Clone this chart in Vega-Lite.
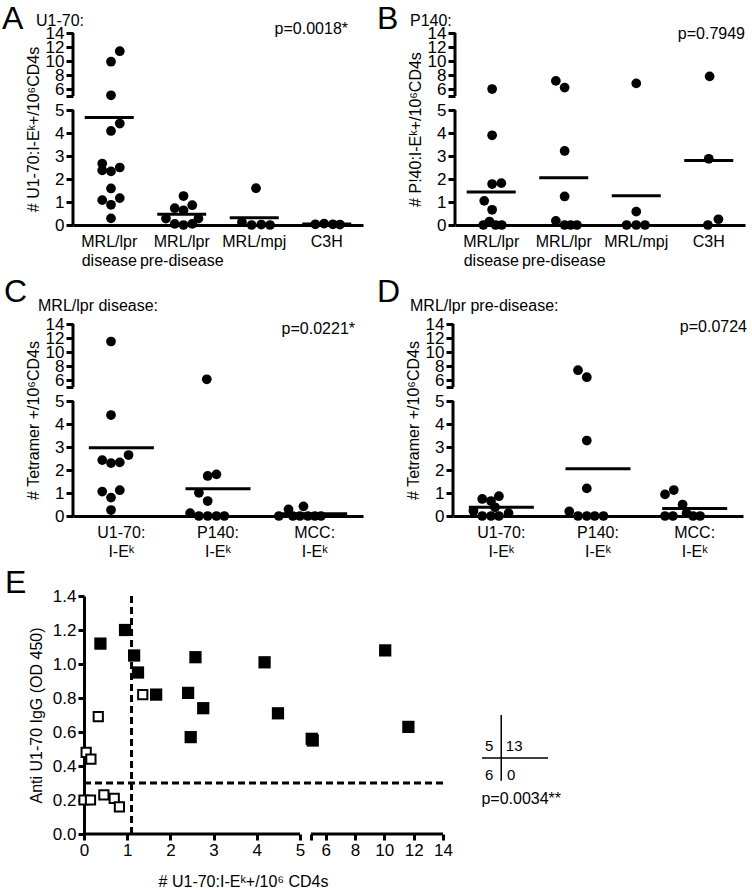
{
  "$schema": "https://vega.github.io/schema/vega-lite/v6.json",
  "background": "white",
  "padding": {"left": 2, "top": 3, "right": 0, "bottom": 2},
  "config": {
    "font": "Liberation Sans",
    "view": {"stroke": null},
    "axis": {"grid": false, "domainColor": "black", "tickColor": "black", "labelColor": "black", "titleColor": "black", "titleFontWeight": "normal", "titleFont": "Liberation Sans", "labelFont": "Liberation Sans"},
    "text": {"font": "Liberation Sans", "color": "black"}
  },
  "datasets": {
    "aPts": [
      {"g": "MRL/lpr|disease", "v": 11.4, "j": 1.2}, {"g": "MRL/lpr|disease", "v": 9.9, "j": 0.2}, {"g": "MRL/lpr|disease", "v": 5.1, "j": 0.2},
      {"g": "MRL/lpr|disease", "v": 4.41, "j": 1.2}, {"g": "MRL/lpr|disease", "v": 4.09, "j": 0.2}, {"g": "MRL/lpr|disease", "v": 2.67, "j": -0.8},
      {"g": "MRL/lpr|disease", "v": 2.38, "j": -0.8}, {"g": "MRL/lpr|disease", "v": 2.33, "j": 0.2}, {"g": "MRL/lpr|disease", "v": 2.5, "j": 1.2},
      {"g": "MRL/lpr|disease", "v": 1.59, "j": 0.2}, {"g": "MRL/lpr|disease", "v": 1.08, "j": -0.8}, {"g": "MRL/lpr|disease", "v": 1.17, "j": 1.2},
      {"g": "MRL/lpr|disease", "v": 0.88, "j": 0.2}, {"g": "MRL/lpr|disease", "v": 0.29, "j": 0.2},
      {"g": "MRL/lpr|pre-disease", "v": 1.26, "j": 0.2}, {"g": "MRL/lpr|pre-disease", "v": 0.73, "j": -0.8}, {"g": "MRL/lpr|pre-disease", "v": 0.86, "j": 1.2},
      {"g": "MRL/lpr|pre-disease", "v": 0.64, "j": 0.2}, {"g": "MRL/lpr|pre-disease", "v": 0.28, "j": -1.8}, {"g": "MRL/lpr|pre-disease", "v": 0.05, "j": -0.8},
      {"g": "MRL/lpr|pre-disease", "v": 0, "j": 0.2}, {"g": "MRL/lpr|pre-disease", "v": 0.05, "j": 1.2}, {"g": "MRL/lpr|pre-disease", "v": 0.28, "j": 1.9},
      {"g": "MRL/mpj", "v": 1.6, "j": 0.2}, {"g": "MRL/mpj", "v": 0.12, "j": -1.4}, {"g": "MRL/mpj", "v": 0, "j": -0.3},
      {"g": "MRL/mpj", "v": 0.02, "j": 0.8}, {"g": "MRL/mpj", "v": 0, "j": 1.8},
      {"g": "C3H", "v": 0.03, "j": -1.3}, {"g": "C3H", "v": 0.06, "j": -0.3}, {"g": "C3H", "v": 0.03, "j": 0.7}, {"g": "C3H", "v": 0.02, "j": 1.5}
    ],
    "aMean": [
      {"g": "MRL/lpr|disease", "v": 4.67}, {"g": "MRL/lpr|pre-disease", "v": 0.47}, {"g": "MRL/mpj", "v": 0.32}, {"g": "C3H", "v": 0.04}
    ],
    "bPts": [
      {"g": "MRL/lpr|disease", "v": 6.0, "j": 0.1}, {"g": "MRL/lpr|disease", "v": 3.9, "j": 0.1}, {"g": "MRL/lpr|disease", "v": 1.78, "j": 0.1},
      {"g": "MRL/lpr|disease", "v": 1.82, "j": 1.15}, {"g": "MRL/lpr|disease", "v": 1.05, "j": -0.8}, {"g": "MRL/lpr|disease", "v": 0.66, "j": 0.1},
      {"g": "MRL/lpr|disease", "v": 0, "j": -0.9}, {"g": "MRL/lpr|disease", "v": 0.15, "j": -0.2}, {"g": "MRL/lpr|disease", "v": 0, "j": 0.5},
      {"g": "MRL/lpr|disease", "v": 0, "j": 1.2},
      {"g": "MRL/lpr|pre-disease", "v": 7.16, "j": -0.9}, {"g": "MRL/lpr|pre-disease", "v": 6.2, "j": 0.1}, {"g": "MRL/lpr|pre-disease", "v": 3.22, "j": 0.1},
      {"g": "MRL/lpr|pre-disease", "v": 1.24, "j": 0.1}, {"g": "MRL/lpr|pre-disease", "v": 0.18, "j": -0.9}, {"g": "MRL/lpr|pre-disease", "v": 0, "j": 0.1},
      {"g": "MRL/lpr|pre-disease", "v": 0, "j": 0.8}, {"g": "MRL/lpr|pre-disease", "v": 0, "j": 1.5},
      {"g": "MRL/mpj", "v": 6.8, "j": 0}, {"g": "MRL/mpj", "v": 0.58, "j": 0}, {"g": "MRL/mpj", "v": 0, "j": -1.1},
      {"g": "MRL/mpj", "v": 0, "j": 0}, {"g": "MRL/mpj", "v": 0, "j": 1.0},
      {"g": "C3H", "v": 7.8, "j": 0.1}, {"g": "C3H", "v": 2.88, "j": 0}, {"g": "C3H", "v": 0, "j": -0.1}, {"g": "C3H", "v": 0.25, "j": 1.1}
    ],
    "bMean": [
      {"g": "MRL/lpr|disease", "v": 1.44}, {"g": "MRL/lpr|pre-disease", "v": 2.05}, {"g": "MRL/mpj", "v": 1.27}, {"g": "C3H", "v": 2.8}
    ],
    "cPts": [
      {"g": "U1-70:|I-Eᵏ", "v": 11.5, "j": 0.2}, {"g": "U1-70:|I-Eᵏ", "v": 4.39, "j": 0.2}, {"g": "U1-70:|I-Eᵏ", "v": 2.43, "j": -0.8},
      {"g": "U1-70:|I-Eᵏ", "v": 2.3, "j": 0.2}, {"g": "U1-70:|I-Eᵏ", "v": 2.33, "j": 1.2}, {"g": "U1-70:|I-Eᵏ", "v": 2.65, "j": 2.2},
      {"g": "U1-70:|I-Eᵏ", "v": 1.06, "j": -0.8}, {"g": "U1-70:|I-Eᵏ", "v": 1.12, "j": 1.2}, {"g": "U1-70:|I-Eᵏ", "v": 0.8, "j": 0.2},
      {"g": "U1-70:|I-Eᵏ", "v": 0.26, "j": 0.2},
      {"g": "P140:|I-Eᵏ", "v": 6.1, "j": 0.1}, {"g": "P140:|I-Eᵏ", "v": 1.74, "j": 0.2}, {"g": "P140:|I-Eᵏ", "v": 1.81, "j": 1.2},
      {"g": "P140:|I-Eᵏ", "v": 1.01, "j": -0.8}, {"g": "P140:|I-Eᵏ", "v": 0.65, "j": 0.2}, {"g": "P140:|I-Eᵏ", "v": 0.12, "j": -1.8},
      {"g": "P140:|I-Eᵏ", "v": 0, "j": -0.8}, {"g": "P140:|I-Eᵏ", "v": 0, "j": 0.2}, {"g": "P140:|I-Eᵏ", "v": 0, "j": 1.2},
      {"g": "P140:|I-Eᵏ", "v": 0, "j": 2.1},
      {"g": "MCC:|I-Eᵏ", "v": 0.29, "j": -1.6}, {"g": "MCC:|I-Eᵏ", "v": 0.42, "j": 0.1}, {"g": "MCC:|I-Eᵏ", "v": 0, "j": -2.7},
      {"g": "MCC:|I-Eᵏ", "v": 0, "j": -1.1}, {"g": "MCC:|I-Eᵏ", "v": 0, "j": -0.3}, {"g": "MCC:|I-Eᵏ", "v": 0, "j": 0.6},
      {"g": "MCC:|I-Eᵏ", "v": 0, "j": 1.4}, {"g": "MCC:|I-Eᵏ", "v": 0, "j": 2.1}
    ],
    "cMean": [
      {"g": "U1-70:|I-Eᵏ", "v": 2.97}, {"g": "P140:|I-Eᵏ", "v": 1.18}, {"g": "MCC:|I-Eᵏ", "v": 0.1}
    ],
    "dPts": [
      {"g": "U1-70:|I-Eᵏ", "v": 0.22, "j": -1.8}, {"g": "U1-70:|I-Eᵏ", "v": 0.74, "j": -0.8}, {"g": "U1-70:|I-Eᵏ", "v": 0.65, "j": 0.2},
      {"g": "U1-70:|I-Eᵏ", "v": 0.86, "j": 1.1}, {"g": "U1-70:|I-Eᵏ", "v": 0.38, "j": 0.66}, {"g": "U1-70:|I-Eᵏ", "v": 0, "j": -0.8},
      {"g": "U1-70:|I-Eᵏ", "v": 0, "j": 0.2}, {"g": "U1-70:|I-Eᵏ", "v": 0, "j": 1.1}, {"g": "U1-70:|I-Eᵏ", "v": 0.12, "j": 2.2},
      {"g": "P140:|I-Eᵏ", "v": 7.4, "j": -0.9}, {"g": "P140:|I-Eᵏ", "v": 6.4, "j": 0.1}, {"g": "P140:|I-Eᵏ", "v": 3.28, "j": 0.1},
      {"g": "P140:|I-Eᵏ", "v": 1.2, "j": 0.1}, {"g": "P140:|I-Eᵏ", "v": 0.2, "j": -1.9}, {"g": "P140:|I-Eᵏ", "v": 0, "j": -0.9},
      {"g": "P140:|I-Eᵏ", "v": 0, "j": 0.1}, {"g": "P140:|I-Eᵏ", "v": 0, "j": 1.0}, {"g": "P140:|I-Eᵏ", "v": 0, "j": 2.0},
      {"g": "MCC:|I-Eᵏ", "v": 0.94, "j": -2}, {"g": "MCC:|I-Eᵏ", "v": 1.13, "j": -1}, {"g": "MCC:|I-Eᵏ", "v": 0.5, "j": 0},
      {"g": "MCC:|I-Eᵏ", "v": 0, "j": -2}, {"g": "MCC:|I-Eᵏ", "v": 0, "j": -1.1}, {"g": "MCC:|I-Eᵏ", "v": 0.12, "j": 0.45},
      {"g": "MCC:|I-Eᵏ", "v": 0, "j": 1.2}, {"g": "MCC:|I-Eᵏ", "v": 0, "j": 2.0}
    ],
    "dMean": [
      {"g": "U1-70:|I-Eᵏ", "v": 0.38}, {"g": "P140:|I-Eᵏ", "v": 2.05}, {"g": "MCC:|I-Eᵏ", "v": 0.33}
    ],
    "eFilled": [
      {"x": 0.38, "y": 1.12}, {"x": 0.95, "y": 1.2}, {"x": 1.16, "y": 1.05}, {"x": 1.25, "y": 0.95}, {"x": 1.67, "y": 0.82},
      {"x": 2.41, "y": 0.83}, {"x": 2.58, "y": 1.04}, {"x": 4.18, "y": 1.01}, {"x": 10.06, "y": 1.08}, {"x": 2.76, "y": 0.74},
      {"x": 2.47, "y": 0.57}, {"x": 4.49, "y": 0.71}, {"x": 5.05, "y": 0.56}, {"x": 5.12, "y": 0.55}, {"x": 11.64, "y": 0.63}
    ],
    "eOpen": [
      {"x": 1.36, "y": 0.82}, {"x": 0.33, "y": 0.69}, {"x": 0.05, "y": 0.48}, {"x": 0.16, "y": 0.44},
      {"x": 0.0, "y": 0.2}, {"x": 0.15, "y": 0.2}, {"x": 0.46, "y": 0.23}, {"x": 0.7, "y": 0.21}, {"x": 0.82, "y": 0.16}
    ],
    "eTab": [
      {"x": 17.97, "x2": 17.97, "y": 0.313, "y2": 0.7},
      {"x": 16.66, "x2": 21.16, "y": 0.447, "y2": 0.447}
    ],
    "eTabTxt": [
      {"x": 17.14, "y": 0.515, "t": "5"}, {"x": 18.85, "y": 0.515, "t": "13"},
      {"x": 17.14, "y": 0.348, "t": "6"}, {"x": 18.64, "y": 0.348, "t": "0"}
    ]
  },
  "concat": [
    {
      "hconcat": [
        {
          "width": 290, "height": 192,
          "encoding": {
            "x": {"field": "g", "type": "nominal",
              "scale": {"type": "band", "domain": ["MRL/lpr|disease", "MRL/lpr|pre-disease", "MRL/mpj", "C3H"], "paddingInner": 0, "paddingOuter": 0},
              "axis": {"title": null, "labelExpr": "split(datum.label, '|')", "labelAngle": 0, "ticks": false, "domainWidth": 3, "labelFontSize": 16, "labelPadding": 8, "labelLineHeight": 19}},
            "y": {"field": "v", "type": "quantitative",
              "scale": {"domain": [0, 5, 5.001, 14], "range": [192, 77, 63, 0], "nice": false, "zero": false},
              "axis": {"title": "# U1-70:I-Eᵏ+/10⁶CD4s", "values": [0, 1, 2, 3, 4, 5, 5.001, 6, 8, 10, 12, 14], "format": "d", "labelExpr": "datum.value == 5.001 ? '' : datum.label", "domain": false, "tickWidth": 3, "tickSize": 7, "labelFontSize": 17, "labelOverlap": false, "labelPadding": 2, "titleFontSize": 16}}
          },
          "layer": [
            {"data": {"values": [{"g": "MRL/lpr|disease", "v": 0, "v2": 5}, {"g": "MRL/lpr|disease", "v": 5.001, "v2": 14}]},
             "mark": {"type": "rule", "strokeWidth": 3, "color": "black"},
             "encoding": {"x": {"field": "g", "type": "nominal", "bandPosition": 0, "title": null}, "y2": {"field": "v2"}}},
            {"data": {"name": "aMean"}, "mark": {"type": "tick", "thickness": 3, "size": 49, "color": "black", "opacity": 1}},
            {"data": {"name": "aPts"}, "mark": {"type": "circle", "size": 95, "color": "black", "opacity": 1},
             "encoding": {"xOffset": {"field": "j", "type": "quantitative", "scale": {"domain": [-3.15, 3.15], "nice": false, "zero": false}}}},
            {"data": {"values": [{"g": "MRL/lpr|disease", "v": 14, "t": "A"}]},
             "mark": {"type": "text", "fontSize": 32, "align": "left", "baseline": "alphabetic", "dx": -71, "dy": -4},
             "encoding": {"x": {"field": "g", "type": "nominal", "bandPosition": 0, "title": null}, "text": {"field": "t"}}},
            {"data": {"values": [{"g": "MRL/lpr|disease", "v": 14, "t": "U1-70:"}]},
             "mark": {"type": "text", "fontSize": 16, "align": "left", "baseline": "alphabetic", "dx": -37, "dy": -7},
             "encoding": {"x": {"field": "g", "type": "nominal", "bandPosition": 0, "title": null}, "text": {"field": "t"}}},
            {"data": {"values": [{"g": "C3H", "v": 14, "t": "p=0.0018*"}]},
             "mark": {"type": "text", "fontSize": 16, "align": "right", "baseline": "alphabetic", "dx": -15, "dy": 1},
             "encoding": {"x": {"field": "g", "type": "nominal", "bandPosition": 1, "title": null}, "text": {"field": "t"}}}
          ]
        },
        {
          "width": 290, "height": 192,
          "encoding": {
            "x": {"field": "g", "type": "nominal",
              "scale": {"type": "band", "domain": ["MRL/lpr|disease", "MRL/lpr|pre-disease", "MRL/mpj", "C3H"], "paddingInner": 0, "paddingOuter": 0},
              "axis": {"title": null, "labelExpr": "split(datum.label, '|')", "labelAngle": 0, "ticks": false, "domainWidth": 3, "labelFontSize": 16, "labelPadding": 8, "labelLineHeight": 19}},
            "y": {"field": "v", "type": "quantitative",
              "scale": {"domain": [0, 5, 5.001, 14], "range": [192, 77, 63, 0], "nice": false, "zero": false},
              "axis": {"title": "# P!40:I-Eᵏ+/10⁶CD4s", "values": [0, 1, 2, 3, 4, 5, 5.001, 6, 8, 10, 12, 14], "format": "d", "labelExpr": "datum.value == 5.001 ? '' : datum.label", "domain": false, "tickWidth": 3, "tickSize": 7, "labelFontSize": 17, "labelOverlap": false, "labelPadding": 2, "titleFontSize": 16}}
          },
          "layer": [
            {"data": {"values": [{"g": "MRL/lpr|disease", "v": 0, "v2": 5}, {"g": "MRL/lpr|disease", "v": 5.001, "v2": 14}]},
             "mark": {"type": "rule", "strokeWidth": 3, "color": "black"},
             "encoding": {"x": {"field": "g", "type": "nominal", "bandPosition": 0, "title": null}, "y2": {"field": "v2"}}},
            {"data": {"name": "bMean"}, "mark": {"type": "tick", "thickness": 3, "size": 49, "color": "black", "opacity": 1}},
            {"data": {"name": "bPts"}, "mark": {"type": "circle", "size": 95, "color": "black", "opacity": 1},
             "encoding": {"xOffset": {"field": "j", "type": "quantitative", "scale": {"domain": [-3.15, 3.15], "nice": false, "zero": false}}}},
            {"data": {"values": [{"g": "MRL/lpr|disease", "v": 14, "t": "B"}]},
             "mark": {"type": "text", "fontSize": 32, "align": "left", "baseline": "alphabetic", "dx": -78, "dy": -4},
             "encoding": {"x": {"field": "g", "type": "nominal", "bandPosition": 0, "title": null}, "text": {"field": "t"}}},
            {"data": {"values": [{"g": "MRL/lpr|disease", "v": 14, "t": "P140:"}]},
             "mark": {"type": "text", "fontSize": 16, "align": "left", "baseline": "alphabetic", "dx": -45, "dy": -7},
             "encoding": {"x": {"field": "g", "type": "nominal", "bandPosition": 0, "title": null}, "text": {"field": "t"}}},
            {"data": {"values": [{"g": "C3H", "v": 14, "t": "p=0.7949"}]},
             "mark": {"type": "text", "fontSize": 16, "align": "right", "baseline": "alphabetic", "dx": 0, "dy": 6},
             "encoding": {"x": {"field": "g", "type": "nominal", "bandPosition": 1, "title": null}, "text": {"field": "t"}}}
          ]
        }
      ],
      "spacing": 14
    },
    {
      "hconcat": [
        {
          "width": 290, "height": 192,
          "encoding": {
            "x": {"field": "g", "type": "nominal",
              "scale": {"type": "band", "domain": ["U1-70:|I-Eᵏ", "P140:|I-Eᵏ", "MCC:|I-Eᵏ"], "paddingInner": 0, "paddingOuter": 0},
              "axis": {"title": null, "labelExpr": "split(datum.label, '|')", "labelAngle": 0, "ticks": false, "domainWidth": 3, "labelFontSize": 16, "labelPadding": 8, "labelLineHeight": 19}},
            "y": {"field": "v", "type": "quantitative",
              "scale": {"domain": [0, 5, 5.001, 14], "range": [192, 77, 63, 0], "nice": false, "zero": false},
              "axis": {"title": "# Tetramer +/10⁶CD4s", "values": [0, 1, 2, 3, 4, 5, 5.001, 6, 8, 10, 12, 14], "format": "d", "labelExpr": "datum.value == 5.001 ? '' : datum.label", "domain": false, "tickWidth": 3, "tickSize": 7, "labelFontSize": 17, "labelOverlap": false, "labelPadding": 2, "titleFontSize": 16}}
          },
          "layer": [
            {"data": {"values": [{"g": "U1-70:|I-Eᵏ", "v": 0, "v2": 5}, {"g": "U1-70:|I-Eᵏ", "v": 5.001, "v2": 14}]},
             "mark": {"type": "rule", "strokeWidth": 3, "color": "black"},
             "encoding": {"x": {"field": "g", "type": "nominal", "bandPosition": 0, "title": null}, "y2": {"field": "v2"}}},
            {"data": {"name": "cMean"}, "mark": {"type": "tick", "thickness": 3, "size": 65, "color": "black", "opacity": 1}},
            {"data": {"name": "cPts"}, "mark": {"type": "circle", "size": 95, "color": "black", "opacity": 1},
             "encoding": {"xOffset": {"field": "j", "type": "quantitative", "scale": {"domain": [-4.13, 4.13], "nice": false, "zero": false}}}},
            {"data": {"values": [{"g": "U1-70:|I-Eᵏ", "v": 14, "t": "C"}]},
             "mark": {"type": "text", "fontSize": 32, "align": "left", "baseline": "alphabetic", "dx": -69, "dy": -22},
             "encoding": {"x": {"field": "g", "type": "nominal", "bandPosition": 0, "title": null}, "text": {"field": "t"}}},
            {"data": {"values": [{"g": "U1-70:|I-Eᵏ", "v": 14, "t": "MRL/lpr disease:"}]},
             "mark": {"type": "text", "fontSize": 16, "align": "left", "baseline": "alphabetic", "dx": -35, "dy": -13},
             "encoding": {"x": {"field": "g", "type": "nominal", "bandPosition": 0, "title": null}, "text": {"field": "t"}}},
            {"data": {"values": [{"g": "MCC:|I-Eᵏ", "v": 14, "t": "p=0.0221*"}]},
             "mark": {"type": "text", "fontSize": 16, "align": "right", "baseline": "alphabetic", "dx": -8, "dy": 10},
             "encoding": {"x": {"field": "g", "type": "nominal", "bandPosition": 1, "title": null}, "text": {"field": "t"}}}
          ]
        },
        {
          "width": 290, "height": 192,
          "encoding": {
            "x": {"field": "g", "type": "nominal",
              "scale": {"type": "band", "domain": ["U1-70:|I-Eᵏ", "P140:|I-Eᵏ", "MCC:|I-Eᵏ"], "paddingInner": 0, "paddingOuter": 0},
              "axis": {"title": null, "labelExpr": "split(datum.label, '|')", "labelAngle": 0, "ticks": false, "domainWidth": 3, "labelFontSize": 16, "labelPadding": 8, "labelLineHeight": 19}},
            "y": {"field": "v", "type": "quantitative",
              "scale": {"domain": [0, 5, 5.001, 14], "range": [192, 77, 63, 0], "nice": false, "zero": false},
              "axis": {"title": "# Tetramer +/10⁶CD4s", "values": [0, 1, 2, 3, 4, 5, 5.001, 6, 8, 10, 12, 14], "format": "d", "labelExpr": "datum.value == 5.001 ? '' : datum.label", "domain": false, "tickWidth": 3, "tickSize": 7, "labelFontSize": 17, "labelOverlap": false, "labelPadding": 2, "titleFontSize": 16}}
          },
          "layer": [
            {"data": {"values": [{"g": "U1-70:|I-Eᵏ", "v": 0, "v2": 5}, {"g": "U1-70:|I-Eᵏ", "v": 5.001, "v2": 14}]},
             "mark": {"type": "rule", "strokeWidth": 3, "color": "black"},
             "encoding": {"x": {"field": "g", "type": "nominal", "bandPosition": 0, "title": null}, "y2": {"field": "v2"}}},
            {"data": {"name": "dMean"}, "mark": {"type": "tick", "thickness": 3, "size": 65, "color": "black", "opacity": 1}},
            {"data": {"name": "dPts"}, "mark": {"type": "circle", "size": 95, "color": "black", "opacity": 1},
             "encoding": {"xOffset": {"field": "j", "type": "quantitative", "scale": {"domain": [-4.13, 4.13], "nice": false, "zero": false}}}},
            {"data": {"values": [{"g": "U1-70:|I-Eᵏ", "v": 14, "t": "D"}]},
             "mark": {"type": "text", "fontSize": 32, "align": "left", "baseline": "alphabetic", "dx": -76, "dy": -22},
             "encoding": {"x": {"field": "g", "type": "nominal", "bandPosition": 0, "title": null}, "text": {"field": "t"}}},
            {"data": {"values": [{"g": "U1-70:|I-Eᵏ", "v": 14, "t": "MRL/lpr pre-disease:"}]},
             "mark": {"type": "text", "fontSize": 16, "align": "left", "baseline": "alphabetic", "dx": -43, "dy": -13},
             "encoding": {"x": {"field": "g", "type": "nominal", "bandPosition": 0, "title": null}, "text": {"field": "t"}}},
            {"data": {"values": [{"g": "MCC:|I-Eᵏ", "v": 14, "t": "p=0.0724"}]},
             "mark": {"type": "text", "fontSize": 16, "align": "right", "baseline": "alphabetic", "dx": 4, "dy": 8},
             "encoding": {"x": {"field": "g", "type": "nominal", "bandPosition": 1, "title": null}, "text": {"field": "t"}}}
          ]
        }
      ],
      "spacing": 14
    },
    {
      "width": 370, "height": 238,
      "encoding": {
        "x": {"field": "x", "type": "quantitative",
          "scale": {"domain": [0, 5, 5.001, 14], "range": [11, 227, 238, 370], "nice": false, "zero": false},
          "axis": {"title": "# U1-70:I-Eᵏ+/10⁶ CD4s", "values": [0, 1, 2, 3, 4, 5, 5.001, 6, 8, 10, 12, 14], "format": "d", "labelExpr": "datum.value == 5.001 ? '' : datum.label", "domain": false, "tickWidth": 3, "tickSize": 6, "labelFontSize": 17, "labelOverlap": false, "labelFlush": false, "labelPadding": 2, "titleFontSize": 16, "titlePadding": 15, "titleX": 170}},
        "y": {"field": "y", "type": "quantitative",
          "scale": {"domain": [0, 1.4], "nice": false, "zero": false},
          "axis": {"title": "Anti U1-70 IgG (OD 450)", "offset": -11, "values": [0, 0.2, 0.4, 0.6, 0.8, 1, 1.2, 1.4], "format": ".1f", "domainWidth": 3, "tickWidth": 3, "tickSize": 6, "labelFontSize": 17, "labelPadding": 2, "labelFlush": false, "labelOverlap": false, "titleFontSize": 16, "titlePadding": 8}}
      },
      "layer": [
        {"data": {"values": [{"x": 0, "x2": 5, "y": 0}, {"x": 5.001, "x2": 14, "y": 0}]},
         "mark": {"type": "rule", "strokeWidth": 3, "color": "black"},
         "encoding": {"x2": {"field": "x2"}}},
        {"data": {"values": [{"x": 1.1, "y": 0, "y2": 1.42}]},
         "mark": {"type": "rule", "strokeWidth": 3, "strokeDash": [7, 4], "color": "black"},
         "encoding": {"y2": {"field": "y2"}}},
        {"data": {"values": [{"x": 0, "x2": 14.2, "y": 0.3}]},
         "mark": {"type": "rule", "strokeWidth": 3, "strokeDash": [7, 4], "color": "black"},
         "encoding": {"x2": {"field": "x2"}}},
        {"data": {"name": "eOpen"}, "mark": {"type": "point", "shape": "square", "size": 85, "filled": false, "fill": "white", "stroke": "black", "strokeWidth": 2, "opacity": 1}},
        {"data": {"name": "eFilled"}, "mark": {"type": "square", "size": 150, "color": "black", "opacity": 1}},
        {"data": {"name": "eTab"}, "mark": {"type": "rule", "strokeWidth": 1.5, "color": "black"},
         "encoding": {"x2": {"field": "x2"}, "y2": {"field": "y2"}}},
        {"data": {"name": "eTabTxt"}, "mark": {"type": "text", "fontSize": 15, "baseline": "middle", "align": "center"},
         "encoding": {"text": {"field": "t"}}},
        {"data": {"values": [{"x": 16.62, "y": 0.176, "t": "p=0.0034**"}]},
         "mark": {"type": "text", "fontSize": 16, "align": "left", "baseline": "alphabetic"},
         "encoding": {"text": {"field": "t"}}},
        {"data": {"values": [{"x": 0, "y": 1.4, "t": "E"}]},
         "mark": {"type": "text", "fontSize": 32, "align": "left", "baseline": "alphabetic", "dx": -79, "dy": -3},
         "encoding": {"text": {"field": "t"}}}
      ]
    }
  ],
  "columns": 1,
  "spacing": 8
}
